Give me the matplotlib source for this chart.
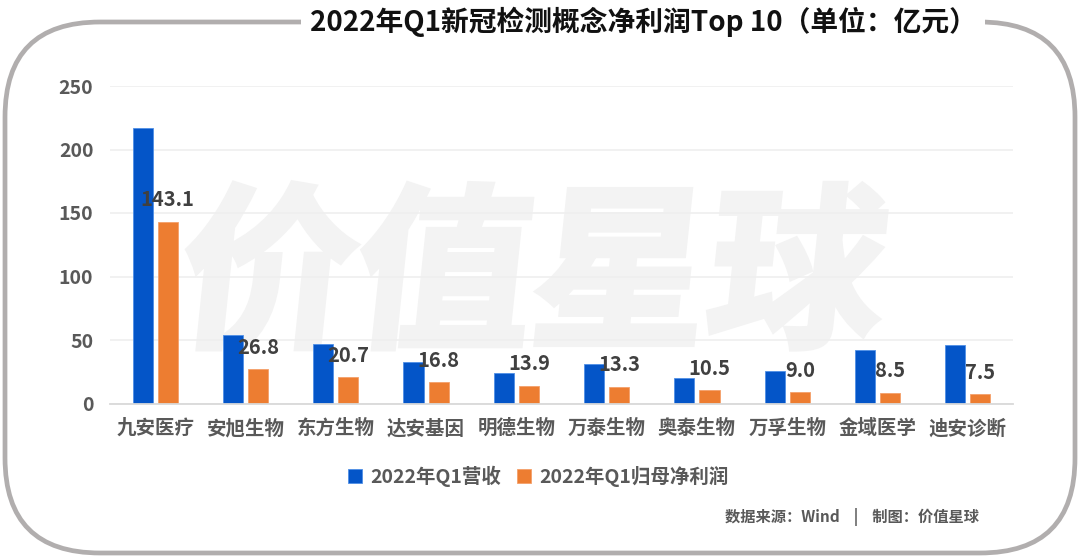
import numpy as np
import matplotlib
matplotlib.use('Agg')
import matplotlib.pyplot as plt
from matplotlib.patches import FancyBboxPatch, PathPatch
from matplotlib.textpath import TextPath
from matplotlib.font_manager import FontProperties
from matplotlib.transforms import Affine2D, IdentityTransform

plt.rcParams['font.family'] = ['Noto Sans CJK SC', 'DejaVu Sans']

companies = ['九安医疗', '安旭生物', '东方生物', '达安基因', '明德生物',
             '万泰生物', '奥泰生物', '万孚生物', '金域医学', '迪安诊断']
revenue = [217.0, 54.2, 46.5, 32.8, 24.3, 31.0, 20.3, 25.3, 41.8, 45.7]
net_profit = [143.1, 26.8, 20.7, 16.8, 13.9, 13.3, 10.5, 9.0, 8.5, 7.5]
series_names = ['2022年Q1营收', '2022年Q1归母净利润']
title = '2022年Q1新冠检测概念净利润Top 10（单位：亿元）'
source = '数据来源：Wind    |    制图：价值星球'

blue = '#0455C8'
orange = '#ED7D31'
grey_txt = '#595959'

W, H = 1080, 558
fig = plt.figure(figsize=(W / 100, H / 100), dpi=100)
fig.patch.set_facecolor('white')

# rounded frame around everything (pixel coords)
frame = FancyBboxPatch((5, 5), 1070, 531, boxstyle='round,pad=0,rounding_size=95',
                       transform=IdentityTransform(), facecolor='none',
                       edgecolor='#b1aeae', linewidth=3.4, zorder=0)
fig.patches.append(frame)

ax = fig.add_axes([110 / W, 1 - 403.5 / H, 903 / W, 317.5 / H])
ax.patch.set_visible(False)

# watermark, slightly slanted and heavy
fp = FontProperties(family='Noto Sans CJK SC', weight='bold')
tp = TextPath((0, 0), '价值星球', size=176, prop=fp)
wm = PathPatch(tp, facecolor='#f3f3f3', edgecolor='#f3f3f3', linewidth=4, zorder=0,
               transform=Affine2D().skew_deg(6, 0).translate(175, 558 - 333) + IdentityTransform())
ax.add_patch(wm)

x = np.arange(len(companies))
bw = 0.222
off = 0.139
ax.bar(x - off, revenue, bw, color=blue, edgecolor='#4f8fe6', linewidth=0.6, zorder=3, label=series_names[0])
ax.bar(x + off, net_profit, bw, color=orange, edgecolor='#f4a06a', linewidth=0.6, zorder=3, label=series_names[1])

for xi, v in zip(x, net_profit):
    ax.annotate(f'{v:.1f}', (xi + off, v), xytext=(0, 15.8), textcoords='offset points',
                ha='center', va='center', fontsize=14.5, fontweight='bold', color='#404040', zorder=4)

ax.set_xlim(-0.5, len(companies) - 0.5)
ax.set_ylim(0, 250)
ax.set_yticks([0, 50, 100, 150, 200, 250])
ax.set_xticks(x)
ax.set_xticklabels(companies)
ax.tick_params(axis='both', length=0, labelsize=14, labelcolor=grey_txt)
ax.tick_params(axis='y', pad=12)
ax.tick_params(axis='x', pad=11)
for lab in ax.get_xticklabels() + ax.get_yticklabels():
    lab.set_fontweight('bold')
ax.grid(axis='y', color='#efefef', linewidth=1.2, zorder=1)
for s in ['top', 'right', 'left']:
    ax.spines[s].set_visible(False)
ax.spines['bottom'].set_color('#d9d9d9')
ax.spines['bottom'].set_linewidth(1.3)
ax.spines['bottom'].set_zorder(5)

leg = fig.legend(loc='center', bbox_to_anchor=(538 / W, 1 - 476 / H), ncol=2, frameon=False,
                 fontsize=14, handlelength=0.75, handleheight=0.75, handletextpad=0.4,
                 columnspacing=0.8)
for t in leg.get_texts():
    t.set_color(grey_txt)
    t.set_fontweight('bold')

fig.text(852 / W, 1 - 517 / H, source, ha='center', va='center', fontsize=11,
         fontweight='bold', color=grey_txt)

fig.text(643 / W, 1 - 22 / H, title, ha='center', va='center', fontsize=20,
         fontweight='bold', color='#111111',
         bbox=dict(facecolor='white', edgecolor='none', pad=6))

fig.savefig('out.png', dpi=100, facecolor='white')
